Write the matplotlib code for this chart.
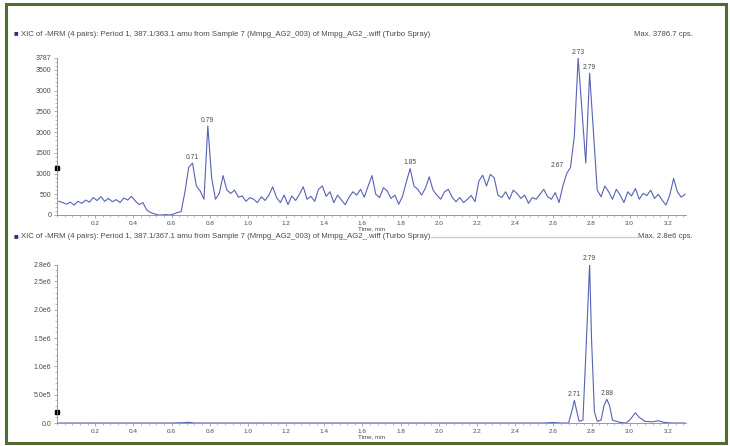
import numpy as np
import matplotlib
matplotlib.use("Agg")
import matplotlib.pyplot as plt
from matplotlib.patches import Rectangle
from matplotlib.ticker import MultipleLocator, FixedLocator

plt.rcParams["font.family"] = ["Liberation Sans", "DejaVu Sans"]

W, H = 730, 446

# XIC 387.1/363.1 -- intensities (cps), one scan every 0.02 min from 0.01 min
top_cps = [
    330, 300, 260, 310, 240, 330, 280, 360, 310, 420,      # 0.01
    350, 440, 330, 400, 320, 370, 300, 410, 360, 450,      # 0.21
    340, 250, 300, 120, 60, 30, 0, 0, 10, 0,               # 0.41
    20, 60, 80, 550, 1150, 1250, 700, 580, 380, 2150,      # 0.61
    900, 380, 520, 950, 600, 520, 600, 430, 460, 330,      # 0.81
    420, 380, 300, 440, 350, 480, 680, 420, 300, 480,      # 1.01
    250, 460, 350, 500, 680, 380, 450, 330, 620, 700,      # 1.21
    450, 560, 300, 480, 360, 250, 430, 560, 480, 620,      # 1.41
    430, 700, 950, 500, 420, 660, 580, 400, 480, 260,      # 1.61
    450, 800, 1120, 700, 620, 480, 650, 920, 600, 480,     # 1.81
    380, 560, 620, 430, 320, 420, 300, 380, 470, 320,      # 2.01
    820, 960, 700, 980, 900, 480, 420, 560, 380, 600,      # 2.21
    520, 400, 480, 280, 420, 380, 500, 620, 440, 380,      # 2.41
    540, 300, 700, 1000, 1150, 1900, 3787, 2500, 1250, 3420,  # 2.61
    2000, 600, 440, 700, 560, 380, 620, 480, 300, 560,     # 2.81
    460, 640, 380, 520, 470, 600, 400, 500, 360, 240,      # 3.01
    480, 880, 560, 430, 500,                               # 3.21
]
top_time = 0.01 + 0.02 * np.arange(len(top_cps))
top_peaks = [0.71, 0.79, 1.85, 2.73, 2.79]
top_peak_labels = ["0.71", "0.79", "1.85", "2.73", "2.79"]
top_max = 3787
top_yticks = [0, 500, 1000, 1500, 2000, 2500, 3000, 3500, 3787]
top_yticklabels = ["0", "500", "1000", "1500", "2000", "2500", "3000", "3500", "3787"]

# XIC 387.1/367.1
bot_time = [0.01, 0.60, 0.66, 0.69, 0.72, 2.55, 2.60, 2.64, 2.68, 2.70, 2.71,
            2.72, 2.735, 2.755, 2.77, 2.79, 2.80, 2.815, 2.83, 2.85, 2.865,
            2.88, 2.895, 2.91, 2.95, 2.98, 3.00, 3.03, 3.05, 3.08, 3.12,
            3.15, 3.18, 3.22, 3.29]
bot_cps = [0, 0, 5e3, 1.2e4, 0, 0, 8e3, 0, 0, 2.5e5, 4.0e5,
           2.5e5, 3e4, 5e4, 1.2e6, 2.8e6, 1.5e6, 2e5, 3e4, 5e4, 3e5,
           4.2e5, 3e5, 5e4, 1e4, 0, 5e4, 1.8e5, 1e5, 3e4, 2e4,
           4e4, 1e4, 0, 0]
bot_peaks = [2.71, 2.79, 2.88]
bot_peak_labels = ["2.71", "2.79", "2.88"]
bot_max = 2.8e6
bot_yticks = [0, 5e5, 1e6, 1.5e6, 2e6, 2.5e6, 2.8e6]
bot_yticklabels = ["0.0", "5.0e5", "1.0e6", "1.5e6", "2.0e6", "2.5e6", "2.8e6"]

headers = [
    "XIC of -MRM (4 pairs): Period 1, 387.1/363.1 amu from Sample 7 (Mmpg_AG2_003) of Mmpg_AG2_.wiff (Turbo Spray)",
    "XIC of -MRM (4 pairs): Period 1, 387.1/367.1 amu from Sample 7 (Mmpg_AG2_003) of Mmpg_AG2_.wiff (Turbo Spray)",
]
max_labels = ["Max. 3786.7 cps.", "Max. 2.8e6 cps."]
thresholds = [1135, 1.94e5]

TRACE = "#5862b4"
GREY = "#8a8a8a"
TXT = "#4a4a4a"


def px_rect(left, top, right, bottom):
    return [left / W, 1 - bottom / H, (right - left) / W, (bottom - top) / H]


def draw_xic(ax, t, y, ymax, yticks, yticklabels, minor_y, peaks, labels, thr):
    ax.plot(t, y, color=TRACE, lw=0.8)
    ax.set_xlim(0, 3.295)
    ax.set_ylim(0, ymax)
    for s in ("top", "right"):
        ax.spines[s].set_visible(False)
    for s in ("left", "bottom"):
        ax.spines[s].set_color(GREY)
        ax.spines[s].set_linewidth(0.6)
    ax.xaxis.set_major_locator(FixedLocator(np.arange(1, 17) * 0.2))
    ax.set_xticklabels([f"{v:.1f}" for v in np.arange(1, 17) * 0.2])
    ax.xaxis.set_minor_locator(MultipleLocator(0.04))
    ax.set_yticks(yticks)
    ax.set_yticklabels(yticklabels)
    ax.yaxis.set_minor_locator(MultipleLocator(minor_y))
    ax.tick_params(which="major", length=2.2, width=0.5, color=GREY,
                   labelcolor=TXT, pad=2)
    ax.tick_params(axis="x", labelsize=4.6)
    ax.tick_params(axis="y", labelsize=5.0)
    ax.tick_params(which="minor", length=1.2, width=0.4, color=GREY)
    ax.set_xlabel("Time, min", fontsize=4.5, color=TXT, labelpad=0.5)
    for p, lab in zip(peaks, labels):
        i = int(np.argmin(np.abs(np.asarray(t) - p)))
        ax.annotate(lab, (t[i], y[i]), xytext=(0, 1.5), textcoords="offset points",
                    ha="center", va="bottom", fontsize=4.9, color=TXT,
                    annotation_clip=False)
    # detection threshold marker on the y axis
    ax.plot([0], [thr], marker="s", ms=2.6, color="black", clip_on=False)


fig = plt.figure(figsize=(W / 100, H / 100), dpi=100)

ax1 = fig.add_axes(px_rect(57, 58, 686, 215))
draw_xic(ax1, top_time, top_cps, top_max, top_yticks, top_yticklabels, 100,
         top_peaks, top_peak_labels, thresholds[0])
# the small shoulder before the main doublet
ax1.annotate("2.67", (2.67, 1000), xytext=(-2, 3), textcoords="offset points",
             ha="right", va="bottom", fontsize=4.9, color=TXT)

ax2 = fig.add_axes(px_rect(57, 264.5, 686, 423))
draw_xic(ax2, bot_time, bot_cps, bot_max, bot_yticks, bot_yticklabels, 1e5,
         bot_peaks, bot_peak_labels, thresholds[1])

# panel headers
fig.add_artist(plt.Line2D([14 / W, 688 / W], [1 - 237 / H] * 2, color="#d0d0d0", lw=1.0))
for y, head, mx in zip([34, 237], headers, max_labels):
    fy = 1 - y / H
    fig.text(14 / W, fy, "\u25a0", fontsize=5.5, color="#2c3470", va="center")
    fig.text(21 / W, fy, head, fontsize=5.6, color=TXT, va="center",
             bbox=dict(facecolor="white", edgecolor="none", pad=0.6))
    fig.text(693 / W, fy, mx, fontsize=5.6, color=TXT, va="center", ha="right",
             bbox=dict(facecolor="white", edgecolor="none", pad=0.6))

# green frame
fig.add_artist(Rectangle((6 / W, 3 / H), 720 / W, 439 / H, transform=fig.transFigure,
                         fill=False, edgecolor="#4d6e2c", lw=2.2))

fig.savefig("out.png", dpi=100)
